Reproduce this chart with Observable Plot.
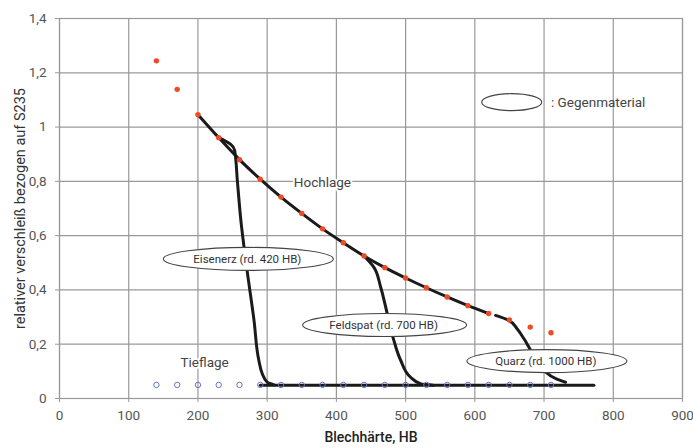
<!DOCTYPE html>
<html><head><meta charset="utf-8">
<script src="https://cdn.jsdelivr.net/npm/d3@7"></script>
<script src="https://cdn.jsdelivr.net/npm/@observablehq/plot@0.6"></script>
<style>body{margin:0;background:#fff}#chart{width:693px;height:448px}</style>
</head><body><div id="chart"></div>
<script>
// Blechhärte (HB) of measured points
const hardness = [140,170,200,230,260,290,320,350,380,410,440,470,500,530,560,590,620,650,680,710];
// Hochlage: relative wear (red dots)
const hochlage = [1.244,1.139,1.046,0.961,0.880,0.808,0.742,0.682,0.625,0.574,0.525,0.482,0.444,0.408,0.374,0.342,0.313,0.289,0.263,0.242];
// Tieflage: relative wear (blue open circles)
const tieflage = [0.05,0.05,0.05,0.05,0.05,0.05,0.05,0.05,0.05,0.05,0.05,0.05,0.05,0.05,0.05,0.05,0.05,0.05,0.05,0.05];

// Drawn curves
const hochLineX = [200,230,260,290,320,350,380,410,440,470,500,530,560,590,620];
const hochLineY = [1.046,0.961,0.880,0.808,0.742,0.682,0.625,0.574,0.525,0.482,0.444,0.408,0.374,0.342,0.313];
const eisenX = [230,247,253,257,262,271,281,288,293,300,310];
const eisenY = [0.961,0.937,0.915,0.800,0.656,0.472,0.288,0.140,0.091,0.060,0.050];
const feldX = [440,454,464,473.5,483,493,507,522,540];
const feldY = [0.525,0.484,0.410,0.312,0.214,0.140,0.079,0.054,0.049];
const quarzX = [630,649,661,671,681,700,717,731];
const quarzY = [0.306,0.288,0.257,0.220,0.177,0.103,0.073,0.060];
const baseX = [290,772];
const baseY = [0.049,0.049];

// Annotations
const gegenLabels = ["Eisenerz (rd. 420 HB)","Feldspat (rd. 700 HB)","Quarz (rd. 1000 HB)"];
const gegenX = [273.5,470.4,704.8];
const gegenY = [0.5125,0.269,0.136];
const legendText = ": Gegenmaterial";
const legendX = 654; const legendY = 1.09;
const zoneLabels = ["Hochlage","Tieflage"];
const zoneX = [338.5,174.8];
const zoneY = [0.794,0.1316];

const xTicks = [0,100,200,300,400,500,600,700,800,900];
const yTicks = [0,0.2,0.4,0.6,0.8,1,1.2,1.4];
const yTickLabel = d => String(+d.toFixed(1)).replace(".", ",");

const pts = hardness.map((h,i)=>({h, hoch: hochlage[i], tief: tieflage[i]}));
const curve = (xs, ys) => xs.map((x,i)=>({x, y: ys[i]}));
const lineStyle = {x:"x", y:"y", stroke:"#1a1a1a", strokeWidth:3, curve:"monotone-y", strokeLinecap:"round", strokeLinejoin:"round"};

const font = "Roboto, 'Liberation Sans', sans-serif";
const plot = Plot.plot({
  width: 693, height: 448,
  marginLeft: 59, marginRight: 11, marginTop: 18, marginBottom: 50,
  style: {fontFamily: font, fontSize: "13px", color: "#555", background: "#fff"},
  x: {domain: [0,900], label: null},
  y: {domain: [0,1.4], label: null},
  marks: [
    Plot.gridX(xTicks, {stroke:"#999", strokeOpacity:1, strokeWidth:1.2}),
    Plot.gridY(yTicks, {stroke:"#999", strokeOpacity:1, strokeWidth:1.2}),
    Plot.frame({stroke:"#999", strokeWidth:1.2}),
    Plot.axisX({ticks: xTicks, tickSize:4, tickPadding:8, stroke:"#999", fill:"#555", fontSize:13.5, label:null}),
    Plot.axisY({ticks: yTicks, tickSize:4, tickPadding:9, stroke:"#999", fill:"#555", fontSize:13.5, tickFormat: yTickLabel, label:null}),
    Plot.line(curve(baseX, baseY), {...lineStyle, curve:"linear"}),
    Plot.line(curve(hochLineX, hochLineY), {...lineStyle, curve:"monotone-x"}),
    Plot.line(curve(eisenX, eisenY), lineStyle),
    Plot.line(curve(feldX, feldY), lineStyle),
    Plot.line(curve(quarzX, quarzY), lineStyle),
    Plot.dot(pts, {x:"h", y:"hoch", r:2.7, fill:"#f04a24", stroke:"none"}),
    Plot.dot(pts, {x:"h", y:"tief", r:2.7, fill:"none", stroke:"#6677c4", strokeWidth:1}),
    Plot.text(zoneLabels.map((t,i)=>({t, x: zoneX[i], y: zoneY[i]})), {x:"x", y:"y", text:"t", textAnchor:"start", fill:"#444", fontSize:13.5, stroke:"#fff", strokeWidth:4}),
    Plot.text([legendText], {x:()=>legendX+56, y:()=>legendY, text:d=>d, textAnchor:"start", fill:"#444", fontSize:13.5}),
    Plot.text(["Blechhärte, HB"], {frameAnchor:"bottom", dy:43, text:d=>d, fill:"#222", fontSize:14, fontWeight:500}),
    Plot.text(["relativer verschleiß bezogen auf S235"], {frameAnchor:"left", dx:-39, rotate:-90, textAnchor:"middle", lineAnchor:"middle", text:d=>d, fill:"#333", fontSize:14.5})
  ]
});
document.getElementById("chart").appendChild(plot);

// Ellipses (Gegenmaterial) drawn with Plot's scales on top of the curves
const sx = plot.scale("x"), sy = plot.scale("y");
const svg = d3.select(plot);
const g = svg.append("g");
const ell = [
  ...gegenLabels.map((t,i)=>({t, x:gegenX[i], y:gegenY[i], rx:[85,82,80][i], ry:11.5})),
  {t:"", x:legendX, y:legendY, rx:30, ry:8.5}
];
ell.forEach(e => {
  const cx = sx.apply(e.x), cy = sy.apply(e.y);
  g.append("ellipse").attr("cx",cx).attr("cy",cy).attr("rx",e.rx).attr("ry",e.ry)
    .attr("fill","#fff").attr("stroke","#444").attr("stroke-width",1.1);
  if (e.t) g.append("text").attr("x",cx-1).attr("y",cy).attr("dy","0.35em")
    .attr("text-anchor","middle").attr("font-size",11.5).attr("fill","#333")
    .attr("font-family",font).text(e.t);
});
</script></body></html>
